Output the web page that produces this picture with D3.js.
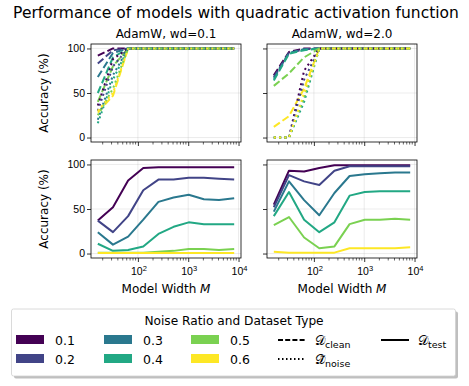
<!DOCTYPE html>
<html>
<head>
<meta charset="utf-8">
<script src="https://cdn.jsdelivr.net/npm/d3@7"></script>
<style>
  body { margin: 0; background: #fff; }
  svg { font-family: "DejaVu Sans", sans-serif; }
</style>
</head>
<body>
<div id="chart"></div>
<script>
// model widths (x values) and noise ratios
const widths = [16, 32, 64, 128, 256, 512, 1024, 2048, 4096, 8192];
const noiseRatios = ["0.1", "0.2", "0.3", "0.4", "0.5", "0.6"];
const colors = ["#440154", "#414487", "#2a788e", "#22a884", "#7ad151", "#fde725"];
const yTicks = [0, 50, 100];
const xTicks = [100, 1000, 10000];

// AdamW wd=0.1
const cleanWd01 = [
  [92, 100, 100, 100, 100, 100, 100, 100, 100, 100],
  [83, 98, 100, 100, 100, 100, 100, 100, 100, 100],
  [68, 95, 100, 100, 100, 100, 100, 100, 100, 100],
  [50, 90, 100, 100, 100, 100, 100, 100, 100, 100],
  [40, 80, 100, 100, 100, 100, 100, 100, 100, 100],
  [28, 47, 100, 100, 100, 100, 100, 100, 100, 100]
];
const noiseWd01 = [
  [36, 88, 100, 100, 100, 100, 100, 100, 100, 100],
  [30, 80, 100, 100, 100, 100, 100, 100, 100, 100],
  [20, 70, 100, 100, 100, 100, 100, 100, 100, 100],
  [16, 65, 100, 100, 100, 100, 100, 100, 100, 100],
  [25, 55, 100, 100, 100, 100, 100, 100, 100, 100],
  [30, 50, 100, 100, 100, 100, 100, 100, 100, 100]
];
const testWd01 = [
  [37, 52, 82, 96, 97, 97, 97, 97, 97, 97],
  [37, 24, 42, 71, 83, 83, 85, 85, 84, 83],
  [24, 10, 19, 38, 58, 63, 66, 61, 60, 62],
  [11, 3, 4, 8, 22, 30, 35, 33, 33, 33],
  [1, 1, 1, 1, 2, 3, 5, 5, 4, 5],
  [0.5, 0.5, 0.5, 0.5, 0.5, 0.5, 0.5, 0.5, 0.5, 0.5]
];

// AdamW wd=2.0
const cleanWd2 = [
  [70, 96, 100, 100, 100, 100, 100, 100, 100, 100],
  [68, 95, 99, 100, 100, 100, 100, 100, 100, 100],
  [66, 95, 99, 100, 100, 100, 100, 100, 100, 100],
  [64, 94, 98, 100, 100, 100, 100, 100, 100, 100],
  [58, 72, 90, 100, 100, 100, 100, 100, 100, 100],
  [12, 24, 55, 100, 100, 100, 100, 100, 100, 100]
];
const noiseWd2 = [
  [0, 0, 75, 100, 100, 100, 100, 100, 100, 100],
  [0, 0, 65, 100, 100, 100, 100, 100, 100, 100],
  [0, 0, 45, 100, 100, 100, 100, 100, 100, 100],
  [0, 0, 40, 100, 100, 100, 100, 100, 100, 100],
  [0, 0, 45, 100, 100, 100, 100, 100, 100, 100],
  [0, 0, 50, 100, 100, 100, 100, 100, 100, 100]
];
const testWd2 = [
  [55, 93, 92, 96, 99, 99, 99, 99, 99, 99],
  [52, 88, 81, 77, 93, 98, 98, 98, 98, 98],
  [47, 81, 60, 43, 68, 87, 89, 90, 91, 91],
  [42, 69, 38, 24, 35, 65, 69, 70, 70, 70],
  [32, 41, 18, 6, 8, 33, 38, 38, 39, 38],
  [2, 1, 1, 1, 1, 6, 6, 6, 6, 7]
];

let W = 469, H = 386;
let panelW = 150, panelH = 98;
let colX = [91, 267];
let rowY = [44, 160];

let svg = d3.select("#chart").append("svg")
            .attr("width", W).attr("height", H);

svg.append("text")
   .attr("x", 236).attr("y", 18)
   .attr("text-anchor", "middle")
   .style("font-size", "15.5px")
   .text("Performance of models with quadratic activation function");

// log x with 5% margins like matplotlib
let lo = Math.log10(widths[0]), hi = Math.log10(widths[widths.length - 1]);
let pad = (hi - lo) * 0.05;
let x = d3.scaleLog().domain([Math.pow(10, lo - pad), Math.pow(10, hi + pad)]).range([0, panelW]);
let y = d3.scaleLinear().domain([-5, 105]).range([panelH, 0]);

let line = d3.line()
             .x((d, i) => x(widths[i]))
             .y(d => y(d));

let minorTicks = [];
[10, 100, 1000].forEach(b => {
  for (let k = 2; k <= 9; k++) {
    let v = b * k;
    if (v >= x.domain()[0] && v <= x.domain()[1]) minorTicks.push(v);
  }
});

function drawPanel(col, row, series) {
  let g = svg.append("g")
             .attr("transform", "translate(" + colX[col] + "," + rowY[row] + ")");

  // grid
  g.selectAll(".gx").data(xTicks.filter(t => t <= x.domain()[1])).enter().append("line")
   .attr("x1", d => x(d)).attr("x2", d => x(d))
   .attr("y1", 0).attr("y2", panelH)
   .attr("stroke", "#b0b0b0").attr("stroke-opacity", 0.3).attr("stroke-width", 0.8);
  g.selectAll(".gy").data(yTicks).enter().append("line")
   .attr("x1", 0).attr("x2", panelW)
   .attr("y1", d => y(d)).attr("y2", d => y(d))
   .attr("stroke", "#b0b0b0").attr("stroke-opacity", 0.3).attr("stroke-width", 0.8);

  let clip = "clip" + col + row;
  g.append("clipPath").attr("id", clip).append("rect")
   .attr("width", panelW).attr("height", panelH);
  let lines = g.append("g").attr("clip-path", "url(#" + clip + ")");

  series.forEach(s => {
    s.data.forEach((vals, i) => {
      lines.append("path")
           .datum(vals)
           .attr("d", line)
           .attr("fill", "none")
           .attr("stroke", colors[i])
           .attr("stroke-width", 2)
           .attr("stroke-dasharray", s.dash)
           .attr("stroke-linejoin", "round");
    });
  });

  // x axis
  let xa = g.append("g").attr("transform", "translate(0," + panelH + ")");
  xa.call(d3.axisBottom(x).tickValues(xTicks.filter(t => t <= x.domain()[1]))
            .tickSize(4).tickFormat(""));
  xa.selectAll(".minor").data(minorTicks).enter().append("line")
    .attr("class", "minor")
    .attr("x1", d => x(d)).attr("x2", d => x(d))
    .attr("y1", 0).attr("y2", 2.5)
    .attr("stroke", "#000").attr("stroke-width", 0.6);
  xa.select(".domain").remove();
  xa.selectAll(".tick line").attr("stroke-width", 0.8);
  if (row == 1) {
    xTicks.forEach(t => {
      let txt = xa.append("text")
                  .attr("x", x(t) + 1).attr("y", 17)
                  .attr("text-anchor", "middle")
                  .style("font-size", "10.5px")
                  .attr("fill", "#000");
      txt.append("tspan").text("10");
      txt.append("tspan").attr("dy", -4).style("font-size", "7.5px").text(Math.log10(t));
    });
  }

  // y axis
  let ya = g.append("g");
  ya.call(d3.axisLeft(y).tickValues(yTicks).tickSize(4)
            .tickFormat(col == 0 ? d3.format("d") : ""));
  ya.select(".domain").remove();
  ya.selectAll(".tick line").attr("stroke-width", 0.8);
  ya.selectAll(".tick text").style("font-size", "10.5px").attr("fill", "#000").attr("x", -6);

  g.append("rect")
   .attr("width", panelW).attr("height", panelH)
   .attr("fill", "none").attr("stroke", "#000").attr("stroke-width", 0.8);

  if (col == 0) {
    svg.append("text")
       .attr("transform", "translate(48," + (rowY[row] + panelH / 2) + ") rotate(-90)")
       .attr("text-anchor", "middle")
       .style("font-size", "12px")
       .text("Accuracy (%)");
  }
  if (row == 0) {
    svg.append("text")
       .attr("x", colX[col] + panelW / 2).attr("y", 38)
       .attr("text-anchor", "middle")
       .style("font-size", "12px")
       .text(col == 0 ? "AdamW, wd=0.1" : "AdamW, wd=2.0");
  } else {
    let xl = svg.append("text")
       .attr("x", colX[col] + panelW / 2).attr("y", 293)
       .attr("text-anchor", "middle")
       .style("font-size", "12px");
    xl.append("tspan").text("Model Width ");
    xl.append("tspan").style("font-style", "italic").text("M");
  }
}

drawPanel(0, 0, [{data: cleanWd01, dash: "7.4,3.2"}, {data: noiseWd01, dash: "2,3.3"}]);
drawPanel(1, 0, [{data: cleanWd2, dash: "7.4,3.2"}, {data: noiseWd2, dash: "2,3.3"}]);
drawPanel(0, 1, [{data: testWd01, dash: null}]);
drawPanel(1, 1, [{data: testWd2, dash: null}]);

// legend
let lg = svg.append("g");
lg.append("rect")
  .attr("x", 14).attr("y", 311.5).attr("width", 444).attr("height", 67)
  .attr("rx", 2).attr("fill", "#808080").attr("opacity", 0.5);
lg.append("rect")
  .attr("x", 11.5).attr("y", 309).attr("width", 444).attr("height", 67)
  .attr("rx", 2).attr("fill", "#fff").attr("stroke", "#d0d0d0").attr("stroke-width", 0.8);
lg.append("text")
  .attr("x", 234).attr("y", 325)
  .attr("text-anchor", "middle")
  .style("font-size", "12.2px")
  .text("Noise Ratio and Dataset Type");

let patchX = [16, 104, 191];
let rowsY = [340, 359];
noiseRatios.forEach((r, i) => {
  let cx = patchX[Math.floor(i / 2)], cy = rowsY[i % 2];
  lg.append("rect")
    .attr("x", cx).attr("y", cy - 5).attr("width", 28).attr("height", 9)
    .attr("fill", colors[i]);
  lg.append("text")
    .attr("x", cx + 39).attr("y", cy + 4.5)
    .style("font-size", "12.5px")
    .text(r);
});

let styleItems = [
  {x: 278, y: rowsY[0], dash: "5,2.2", base: "\uD835\uDC9F", sub: "clean"},
  {x: 278, y: rowsY[1], dash: "1.5,2.5", base: "\uD835\uDC9F\u0303", sub: "noise"},
  {x: 381, y: rowsY[0], dash: null, base: "\uD835\uDC9F", sub: "test"}
];
styleItems.forEach(s => {
  lg.append("line")
    .attr("x1", s.x).attr("x2", s.x + 28)
    .attr("y1", s.y).attr("y2", s.y)
    .attr("stroke", "#000").attr("stroke-width", 2)
    .attr("stroke-dasharray", s.dash);
  let t = lg.append("text")
            .attr("x", s.x + 37).attr("y", s.y + 4.5)
            .style("font-size", "12.5px");
  t.append("tspan").text(s.base);
  t.append("tspan").attr("dy", 3).style("font-size", "9.5px").text(s.sub);
});
</script>
</body>
</html>
